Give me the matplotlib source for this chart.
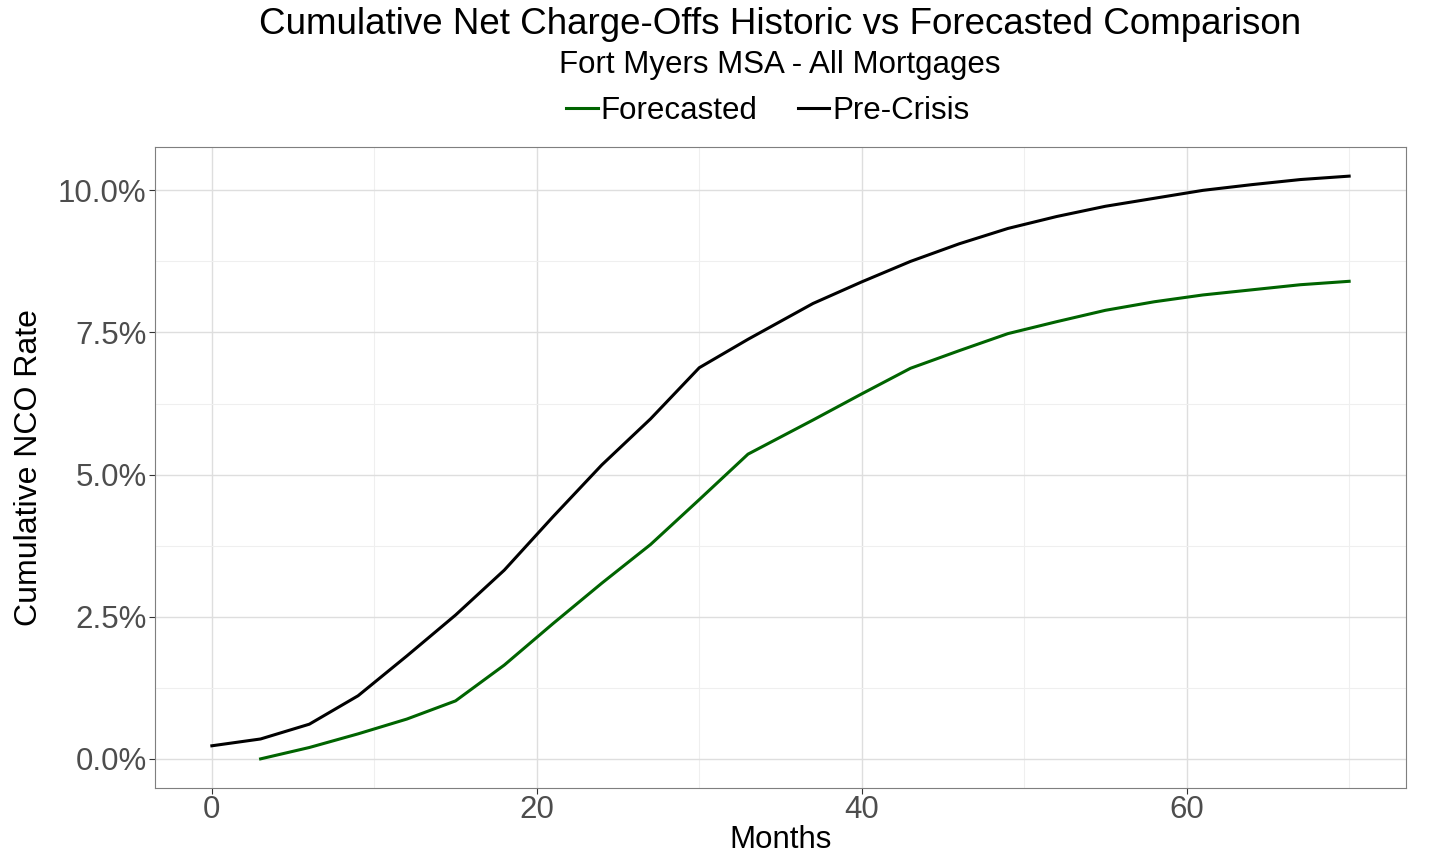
import matplotlib
matplotlib.use("Agg")
import matplotlib.pyplot as plt
from matplotlib.ticker import FuncFormatter, MultipleLocator

plt.rcParams['font.family'] = ['Liberation Sans', 'DejaVu Sans']

# Data
precrisis_months = [0, 3, 6, 9, 12, 15, 18, 21, 24, 27, 30, 33, 37, 40, 43, 46, 49, 52, 55, 58, 61, 64, 67, 70]
precrisis_rate = [0.23, 0.35, 0.61, 1.11, 1.81, 2.53, 3.32, 4.26, 5.17, 5.98, 6.88, 7.38, 8.01, 8.39,
                  8.75, 9.06, 9.33, 9.54, 9.72, 9.86, 10.00, 10.10, 10.19, 10.25]
forecast_months = [3, 6, 9, 12, 15, 18, 21, 24, 27, 30, 33, 37, 40, 43, 46, 49, 52, 55, 58, 61, 64, 67, 70]
forecast_rate = [0.00, 0.20, 0.44, 0.70, 1.02, 1.65, 2.38, 3.09, 3.77, 4.56, 5.36, 5.96, 6.42, 6.87,
                 7.18, 7.48, 7.69, 7.89, 8.04, 8.16, 8.25, 8.34, 8.40]

x_ticks = [0, 20, 40, 60]
y_ticks = [0.0, 2.5, 5.0, 7.5, 10.0]

W, H = 1431, 858
fig = plt.figure(figsize=(W / 100, H / 100), dpi=100)
ax = fig.add_axes([155 / W, (H - 788) / H, (1406 - 155) / W, (788 - 147) / H])

l1, = ax.plot(forecast_months, forecast_rate, color='#006400', lw=2.2, label='Forecasted')
l2, = ax.plot(precrisis_months, precrisis_rate, color='black', lw=2.2, label='Pre-Crisis')

ax.set_xlim(-3.5, 73.5)
ax.set_ylim(-0.5125, 10.7625)
ax.set_xticks(x_ticks)
ax.set_yticks(y_ticks)
ax.xaxis.set_minor_locator(MultipleLocator(10))
ax.yaxis.set_minor_locator(MultipleLocator(1.25))
ax.yaxis.set_major_formatter(FuncFormatter(lambda v, p: f"{v:.1f}%"))

ax.grid(which='major', color='#DEDEDE', lw=1.0)
ax.grid(which='minor', color='#EFEFEF', lw=0.8)
ax.set_axisbelow(True)
for s in ax.spines.values():
    s.set_color('#7F7F7F')
    s.set_linewidth(0.8)
ax.tick_params(which='major', length=4, color='#333333', labelsize=22.5, labelcolor='#4D4D4D')
ax.tick_params(axis='x', which='major', pad=1)
ax.tick_params(axis='y', which='major', pad=2)
ax.tick_params(which='minor', length=0)

ax.set_xlabel('Months', fontsize=22.5, color='black', labelpad=0)
ax.set_ylabel('Cumulative NCO Rate', fontsize=23, color='black', labelpad=10)

fig.text(780 / W, 1 - 25 / H, 'Cumulative Net Charge-Offs Historic vs Forecasted Comparison',
         ha='center', va='center', fontsize=26.5)
fig.text(780 / W, 1 - 65 / H, 'Fort Myers MSA - All Mortgages', ha='center', va='center', fontsize=22.5)

fig.legend(handles=[l1, l2], loc='center', bbox_to_anchor=(768 / W, 1 - 111 / H), ncol=2,
           frameon=False, fontsize=22.5, handlelength=1.0, handletextpad=0.1, columnspacing=1.3)

fig.savefig('out.png', dpi=100)
